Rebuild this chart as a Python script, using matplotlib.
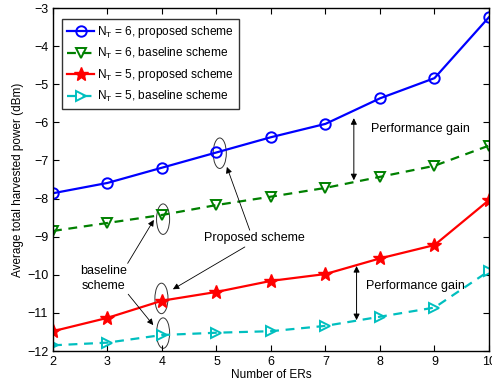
import matplotlib
matplotlib.use("Agg")
import matplotlib.pyplot as plt
from matplotlib.patches import Ellipse

plt.rcParams['font.family'] = ['Liberation Sans', 'DejaVu Sans']
plt.rcParams['mathtext.fontset'] = 'custom'
plt.rcParams['mathtext.rm'] = 'Liberation Sans'
plt.rcParams['mathtext.it'] = 'Liberation Sans'

num_ers = [2, 3, 4, 5, 6, 7, 8, 9, 10]
nt6_proposed = [-7.86, -7.59, -7.19, -6.79, -6.39, -6.04, -5.37, -4.84, -3.24]
nt6_baseline = [-8.85, -8.64, -8.43, -8.17, -7.95, -7.72, -7.43, -7.14, -6.61]
nt5_proposed = [-11.48, -11.13, -10.68, -10.45, -10.16, -9.98, -9.57, -9.22, -8.04]
nt5_baseline = [-11.85, -11.78, -11.58, -11.52, -11.48, -11.34, -11.10, -10.86, -9.90]

labels = [r"N$_\mathregular{T}$ = 6, proposed scheme",
          r"N$_\mathregular{T}$ = 6, baseline scheme",
          r"N$_\mathregular{T}$ = 5, proposed scheme",
          r"N$_\mathregular{T}$ = 5, baseline scheme"]

fig = plt.figure(figsize=(4.92, 3.81), dpi=100)
ax = fig.add_axes([0.1077, 0.0787, 0.8862, 0.9003])

ms = 7.5
ax.plot(num_ers, nt6_proposed, '-', color='#0000ff', lw=1.6, marker='o',
        ms=ms, mfc='none', mew=1.4, label=labels[0])
ax.plot(num_ers, nt6_baseline, '--', color='#008000', lw=1.6, marker='v',
        ms=ms, mfc='none', mew=1.4, label=labels[1], dashes=(4, 3))
ax.plot(num_ers, nt5_proposed, '-', color='#ff0000', lw=1.6, marker='*',
        ms=10, mfc='#ff0000', mew=1.0, label=labels[2])
ax.plot(num_ers, nt5_baseline, '--', color='#00bfbf', lw=1.6, marker='>',
        ms=ms, mfc='none', mew=1.4, label=labels[3], dashes=(4, 3))

ax.set_xlim(2, 10)
ax.set_ylim(-12, -3)
ax.set_xticks(num_ers)
ax.set_yticks(range(-12, -2))
ax.set_yticklabels([f"\u2212{abs(v)}" for v in range(-12, -2)])
ax.tick_params(direction='in', top=True, right=True, labelsize=9, length=4)
ax.set_xlabel("Number of ERs", fontsize=8.5, labelpad=1)
ax.set_ylabel("Average total harvested power (dBm)", fontsize=8.5, labelpad=2)

leg = ax.legend(loc='upper left', bbox_to_anchor=(0.021, 0.967), fontsize=8.6,
                frameon=True, fancybox=False, edgecolor='black',
                handlelength=2.3, borderpad=0.4, labelspacing=0.5,
                handletextpad=0.25, borderaxespad=0)
leg.get_frame().set_linewidth(1.0)

# ellipses around highlighted points
for cx, cy in [(5.06, -6.81), (4.02, -8.54), (3.99, -10.62), (4.02, -11.53)]:
    ax.add_patch(Ellipse((cx, cy), 0.24, 0.80, fill=False, ec='#333333', lw=0.7))

arrow_kw = dict(arrowstyle='-|>', color='black', lw=0.6, mutation_scale=9,
                shrinkA=0, shrinkB=0)
ax.text(5.69, -9.04, "Proposed scheme", ha='center', va='center', fontsize=9)
ax.annotate("", xy=(5.19, -7.17), xytext=(5.61, -8.83), arrowprops=arrow_kw)
ax.annotate("", xy=(4.20, -10.38), xytext=(5.52, -9.27), arrowprops=arrow_kw)

ax.text(2.92, -10.09, "baseline\nscheme", ha='center', va='center', fontsize=9,
        linespacing=1.3)
ax.annotate("", xy=(3.85, -8.56), xytext=(3.37, -9.70), arrowprops=arrow_kw)
ax.annotate("", xy=(3.84, -11.32), xytext=(3.38, -10.51), arrowprops=arrow_kw)

gain_kw = dict(arrowstyle='<|-|>', color='black', lw=0.7, mutation_scale=9,
               shrinkA=0, shrinkB=0)
ax.annotate("", xy=(7.52, -5.89), xytext=(7.52, -7.52), arrowprops=gain_kw)
ax.text(7.83, -6.18, "Performance gain", ha='left', va='center', fontsize=9)
ax.annotate("", xy=(7.57, -9.77), xytext=(7.57, -11.19), arrowprops=gain_kw)
ax.text(7.74, -10.29, "Performance gain", ha='left', va='center', fontsize=9)

for s in ax.spines.values():
    s.set_linewidth(1.0)

fig.savefig("out.png", dpi=100)
